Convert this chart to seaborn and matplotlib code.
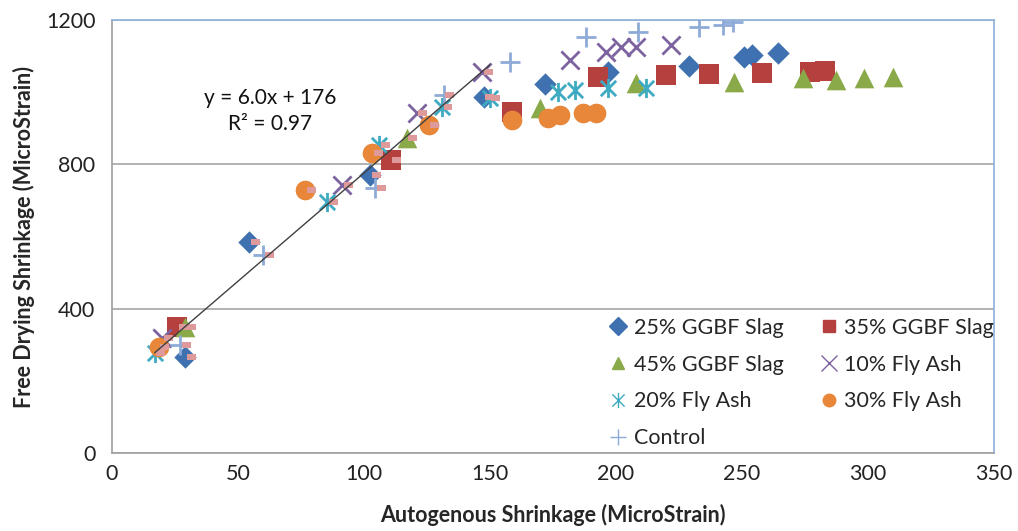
import matplotlib
matplotlib.use("Agg")
import matplotlib.pyplot as plt
import seaborn as sns
import numpy as np
import pandas as pd
from matplotlib.path import Path

# Data (MicroStrain)
slag25_x = [29, 54.5, 102.6, 147.6, 172, 197, 229, 251, 254, 264.5]
slag25_y = [266, 585, 770, 987, 1023, 1056, 1072, 1097, 1103, 1108]

slag35_x = [26, 110.6, 159, 193, 220, 237, 258, 277, 283]
slag35_y = [349, 812, 945, 1042, 1048, 1050, 1053, 1056, 1058]

slag45_x = [29, 117, 170, 208, 247, 274.5, 287.6, 298.7, 310]
slag45_y = [349, 873, 956, 1025, 1028, 1039, 1034, 1039, 1042]

fa10_x = [20, 91.5, 121, 147, 182, 196, 202, 208, 222]
fa10_y = [319, 743, 942, 1056, 1089, 1111, 1125, 1125, 1131]

fa20_x = [17, 85.5, 106, 131, 150, 177, 184, 197, 212]
fa20_y = [277, 696, 854, 959, 984, 1001, 1006, 1011, 1011]

fa30_x = [18.5, 76.8, 103.4, 125.7, 159, 173, 178, 187, 192]
fa30_y = [294, 729, 831, 909, 923, 928, 937, 942, 942]

control_x = [27, 60, 104.6, 131.7, 158, 188, 209, 233, 242.6, 246.6]
control_y = [300, 549, 734, 992, 1084, 1153, 1167, 1181, 1186, 1195]

labels = ['25% GGBF Slag', '35% GGBF Slag', '45% GGBF Slag', '10% Fly Ash',
          '20% Fly Ash', '30% Fly Ash', 'Control']

# linear trend shown on the chart
slope, intercept, r2 = 6.0, 176, 0.97
fit_limit = 150

# asterisk and dash markers like the Excel ones
star = Path([(0, -1), (0, 1), (-0.8, -0.8), (0.8, 0.8), (-0.8, 0.8), (0.8, -0.8)],
            [Path.MOVETO, Path.LINETO] * 3)
dash = Path([(0.15, -0.28), (1, -0.28), (1, 0.28), (0.15, 0.28), (0.15, -0.28)],
            [Path.MOVETO, Path.LINETO, Path.LINETO, Path.LINETO, Path.CLOSEPOLY])

series = [
    (slag25_x, slag25_y, 'D', '#3F70B0', 130, 0),
    (slag35_x, slag35_y, 's', '#B5413E', 190, 0),
    (slag45_x, slag45_y, '^', '#8AAA4A', 200, 0),
    (fa10_x, fa10_y, 'x', '#7D63A0', 170, 2),
    (fa20_x, fa20_y, star, '#3EABC2', 190, 2),
    (fa30_x, fa30_y, 'o', '#E8873A', 200, 0),
    (control_x, control_y, '+', '#8EABD8', 200, 2),
]

sns.set_style('white')
plt.rcParams['font.family'] = ['Lato', 'DejaVu Sans']

fig = plt.figure(figsize=(10.18, 5.31), dpi=100)
ax = fig.add_axes([0.110, 0.147, 0.866, 0.815])

handles = []
for (xs, ys, mk, col, size, lw), lab in zip(series, labels):
    df = pd.DataFrame({'x': xs, 'y': ys})
    sns.scatterplot(data=df, x='x', y='y', marker=mk, color=col, s=size,
                    edgecolor=col, linewidth=lw, ax=ax, zorder=3, legend=False)
    h = plt.Line2D([], [], linestyle='none', marker=mk, color=col,
                   markerfacecolor=col, markeredgecolor=col,
                   markersize=9 if lw == 0 else 11, markeredgewidth=max(lw * 0.5, 1))
    handles.append(h)

# pink dash points used for the trend line
all_x = np.concatenate([s[0] for s in series])
all_y = np.concatenate([s[1] for s in series])
keep = all_x <= fit_limit
fit_df = pd.DataFrame({'x': all_x[keep], 'y': all_y[keep]})
sns.scatterplot(data=fit_df, x='x', y='y', marker=dash, color='#DE9A9A', s=230,
                edgecolor='none', linewidth=0, ax=ax, zorder=4, legend=False)

line_x = np.array([fit_df['x'].min(), fit_df['x'].max()])
sns.lineplot(x=line_x, y=slope * line_x + intercept, color='#404040', linewidth=1, ax=ax, zorder=5)

ax.text(62.8, 948, f'y = {slope:.1f}x + {intercept}\nR² = {r2:.2f}', ha='center', va='center',
        fontsize=15, linespacing=1.35, color='#111111')

ax.set_xlim(0, 350)
ax.set_ylim(0, 1200)
ax.set_xticks(np.arange(0, 351, 50))
ax.set_yticks([0, 400, 800, 1200])
ax.yaxis.grid(True, color='#A6A6A6', linewidth=1.2)
ax.set_axisbelow(True)
ax.tick_params(length=0, labelsize=15.5, colors='#222222')
ax.tick_params(axis='y', pad=12)
ax.tick_params(axis='x', pad=8)

for side in ['left', 'bottom']:
    ax.spines[side].set_color('#A0A0A0')
    ax.spines[side].set_linewidth(1.2)
for side in ['top', 'right']:
    ax.spines[side].set_color('#8EB0DC')
    ax.spines[side].set_linewidth(1.2)

ax.set_xlabel('Autogenous Shrinkage (MicroStrain)', fontsize=15.5, fontweight='bold', labelpad=14)
ax.set_ylabel('Free Drying Shrinkage (MicroStrain)', fontsize=15.5, fontweight='bold', labelpad=8)

# legend filled column-wise, so reorder to read row by row
order = [0, 2, 4, 6, 1, 3, 5]
ax.legend([handles[i] for i in order], [labels[i] for i in order], ncol=2,
          loc='upper left', bbox_to_anchor=(0.555, 0.322), frameon=False, fontsize=15.5,
          handletextpad=0.1, handlelength=1.2, labelspacing=0.78, columnspacing=1.5,
          borderaxespad=0, borderpad=0.2)

fig.savefig('out.png', dpi=100)
